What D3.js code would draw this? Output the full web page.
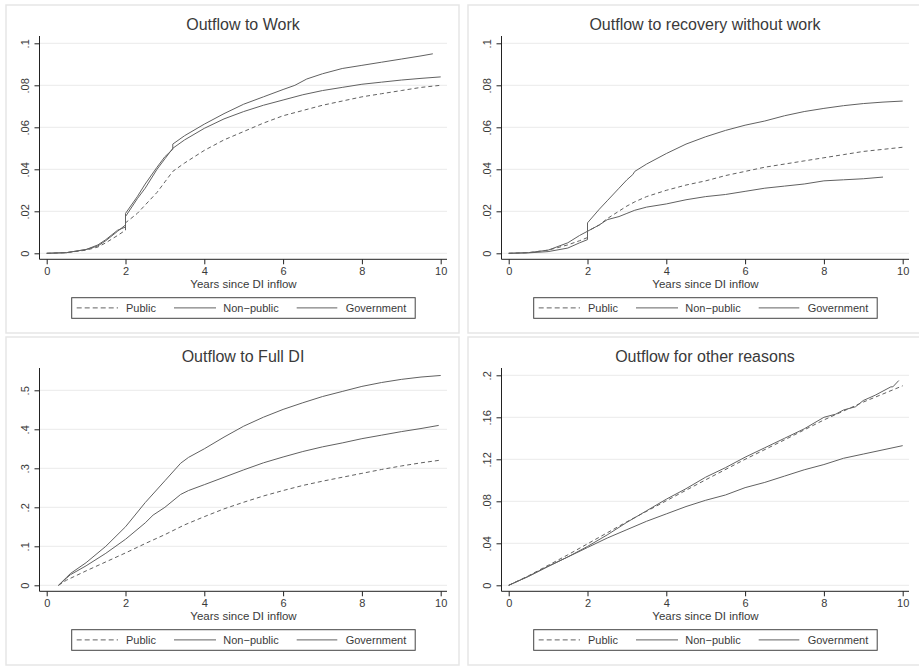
<!DOCTYPE html>
<html>
<head>
<meta charset="utf-8">
<script src="https://cdn.jsdelivr.net/npm/d3@7"></script>
<style>
html,body{margin:0;padding:0;background:#fff;}
svg{display:block;font-family:"Liberation Sans",Arial,Helvetica,sans-serif;}
</style>
</head>
<body>
<svg id="chart" width="919" height="666"></svg>
<script>
// ---------------- DATA ----------------
const panelTitles = ["Outflow to Work","Outflow to recovery without work","Outflow to Full DI","Outflow for other reasons"];
const seriesNames = ["Public","Non\u2212public","Government"];
const xTicks = [0,2,4,6,8,10];
const xLabel = "Years since DI inflow";

const yTicksWork = [0,0.02,0.04,0.06,0.08,0.1];
const yLabelsWork = ["0",".02",".04",".06",".08",".1"];
const yTicksRecov = [0,0.02,0.04,0.06,0.08,0.1];
const yLabelsRecov = ["0",".02",".04",".06",".08",".1"];
const yTicksFull = [0,0.1,0.2,0.3,0.4,0.5];
const yLabelsFull = ["0",".1",".2",".3",".4",".5"];
const yTicksOther = [0,0.04,0.08,0.12,0.16,0.2];
const yLabelsOther = ["0",".04",".08",".12",".16",".2"];

// Outflow to Work
const workPublic = [[0,0],[0.5,0.0003],[1,0.0015],[1.3,0.003],[1.5,0.005],[1.8,0.0085],[2,0.011],[2,0.0145],[2.3,0.019],[2.5,0.023],[2.8,0.029],[3,0.034],[3.2,0.039],[3.5,0.043],[4,0.049],[4.5,0.054],[5,0.058],[5.5,0.062],[6,0.0655],[6.5,0.068],[7,0.0705],[7.5,0.0725],[8,0.0745],[8.5,0.076],[9,0.0775],[9.5,0.079],[10,0.080]];
const workNonPublic = [[0,0],[0.5,0.0003],[1,0.0018],[1.3,0.0035],[1.5,0.006],[1.8,0.0105],[2,0.0135],[2,0.0175],[2.3,0.026],[2.5,0.031],[2.8,0.040],[3,0.045],[3.2,0.050],[3.5,0.054],[4,0.0595],[4.5,0.064],[5,0.0675],[5.5,0.0705],[6,0.073],[6.5,0.0755],[7,0.0775],[7.5,0.079],[8,0.0805],[8.5,0.0815],[9,0.0825],[9.5,0.0833],[10,0.084]];
const workGovernment = [[0,0],[0.5,0.0003],[1,0.0018],[1.3,0.004],[1.5,0.0065],[1.8,0.011],[2,0.0125],[2,0.019],[2.3,0.027],[2.5,0.033],[2.8,0.041],[3,0.046],[3.2,0.0495],[3.2,0.052],[3.5,0.056],[4,0.0615],[4.5,0.0665],[5,0.071],[5.5,0.0745],[6,0.078],[6.3,0.080],[6.6,0.083],[7,0.0855],[7.5,0.088],[8,0.0895],[8.5,0.091],[9,0.0925],[9.5,0.094],[9.8,0.095]];

// Outflow to recovery without work
const recovPublic = [[0,0],[0.5,0.0003],[1,0.0015],[1.5,0.004],[1.8,0.006],[2,0.0075],[2,0.0105],[2.3,0.0135],[2.5,0.0165],[3,0.0225],[3.2,0.0245],[3.5,0.027],[4,0.030],[4.5,0.0325],[5,0.0345],[5.5,0.037],[6,0.039],[6.5,0.041],[7,0.0425],[7.5,0.044],[8,0.0455],[8.5,0.047],[9,0.0485],[9.5,0.0495],[10,0.0505]];
const recovNonPublic = [[0,0],[0.5,0.0003],[1,0.0015],[1.5,0.005],[1.8,0.0085],[2,0.0105],[2,0.0145],[2.3,0.021],[2.5,0.025],[2.8,0.031],[3,0.035],[3.15,0.0375],[3.2,0.039],[3.5,0.0425],[4,0.0475],[4.5,0.052],[5,0.0555],[5.5,0.0585],[6,0.061],[6.5,0.063],[7,0.0655],[7.5,0.0675],[8,0.069],[8.5,0.0703],[9,0.0713],[9.5,0.072],[10,0.0725]];
const recovGovernment = [[0,0],[0.5,0.0002],[1,0.0008],[1.5,0.0025],[1.8,0.005],[2,0.0065],[2,0.0105],[2.3,0.0135],[2.5,0.016],[2.8,0.0175],[3,0.019],[3.2,0.0205],[3.5,0.022],[4,0.0235],[4.5,0.0255],[5,0.027],[5.5,0.028],[6,0.0295],[6.5,0.031],[7,0.032],[7.5,0.033],[8,0.0345],[8.5,0.035],[9,0.0355],[9.5,0.0363]];

// Outflow to Full DI
const fullPublic = [[0.3,0],[0.5,0.013],[0.75,0.025],[1,0.037],[1.5,0.06],[2,0.083],[2.5,0.107],[3,0.13],[3.5,0.155],[4,0.176],[4.5,0.196],[5,0.213],[5.5,0.229],[6,0.243],[6.5,0.256],[7,0.267],[7.5,0.277],[8,0.287],[8.5,0.297],[9,0.306],[9.5,0.314],[10,0.321]];
const fullNonPublic = [[0.3,0],[0.5,0.018],[0.6,0.027],[1,0.05],[1.5,0.082],[2,0.118],[2.5,0.16],[2.7,0.18],[3,0.2],[3.4,0.233],[3.6,0.243],[4,0.258],[4.5,0.277],[5,0.296],[5.5,0.314],[6,0.329],[6.5,0.343],[7,0.355],[7.5,0.365],[8,0.376],[8.5,0.385],[9,0.394],[9.5,0.402],[9.95,0.41]];
const fullGovernment = [[0.3,0],[0.5,0.02],[0.6,0.03],[1,0.058],[1.5,0.1],[2,0.15],[2.5,0.212],[3,0.268],[3.4,0.313],[3.6,0.328],[4,0.35],[4.5,0.38],[5,0.408],[5.5,0.431],[6,0.451],[6.5,0.468],[7,0.484],[7.5,0.497],[8,0.51],[8.5,0.52],[9,0.528],[9.5,0.534],[10,0.538]];

// Outflow for other reasons
const otherPublic = [[0,0],[0.5,0.009],[1,0.019],[1.5,0.029],[2,0.0395],[3,0.0605],[4,0.0805],[5,0.1005],[6,0.12],[7,0.1385],[8,0.1575],[9,0.1745],[10,0.19]];
const otherNonPublic = [[0,0],[0.5,0.0085],[1,0.018],[1.5,0.027],[2,0.036],[2.5,0.045],[3,0.053],[3.5,0.061],[4,0.068],[4.5,0.075],[5,0.081],[5.5,0.086],[6,0.093],[6.5,0.098],[7,0.104],[7.5,0.110],[8,0.115],[8.5,0.121],[9,0.125],[9.5,0.129],[10,0.133]];
const otherGovernment = [[0,0],[0.5,0.0085],[1,0.018],[1.5,0.027],[2,0.037],[2.5,0.048],[3,0.06],[3.5,0.071],[4,0.082],[4.5,0.092],[5,0.103],[5.5,0.112],[6,0.122],[6.5,0.131],[7,0.14],[7.5,0.149],[8,0.16],[8.3,0.163],[8.5,0.167],[8.8,0.17],[9,0.176],[9.3,0.181],[9.5,0.185],[9.7,0.189],[9.75,0.189],[9.9,0.195]];

// ---------------- LAYOUT ----------------
const panels = [
  {ox:6,   oy:5,   title:panelTitles[0], ticks:yTicksWork,  labels:yLabelsWork,  top:0.1, topPx:38.3, series:[workPublic,workNonPublic,workGovernment]},
  {ox:468, oy:5,   title:panelTitles[1], ticks:yTicksRecov, labels:yLabelsRecov, top:0.1, topPx:38.3, series:[recovPublic,recovNonPublic,recovGovernment]},
  {ox:6,   oy:337, title:panelTitles[2], ticks:yTicksFull,  labels:yLabelsFull,  top:0.5, topPx:53.3, series:[fullPublic,fullNonPublic,fullGovernment]},
  {ox:468, oy:337, title:panelTitles[3], ticks:yTicksOther, labels:yLabelsOther, top:0.2, topPx:38.3, series:[otherPublic,otherNonPublic,otherGovernment]}
];
const PW = 453, PH = 328;
const axisX = 33.5, plotRight = 441, axisY = 254.3, axisTop = 31;
const lineColor = "#616161";
const dashes = ["4,3", null, null];
const svg = d3.select("#chart");

panels.forEach(p => {
  const g = svg.append("g").attr("transform", `translate(${p.ox},${p.oy})`);
  g.append("rect").attr("x",0).attr("y",0).attr("width",PW).attr("height",PH)
    .attr("fill","#fff").attr("stroke","#e6e6e6").attr("stroke-width",1.5);

  const x = d3.scaleLinear().domain([0,10]).range([40.7,434.7]);
  const y = d3.scaleLinear().domain([0,p.top]).range([248.3,p.topPx]);

  // grid
  g.selectAll("line.grid").data(p.ticks).enter().append("line")
    .attr("x1",axisX).attr("x2",plotRight)
    .attr("y1",d=>y(d)).attr("y2",d=>y(d))
    .attr("stroke","#eaeaea").attr("stroke-width",1);

  // lines
  const line = d3.line().x(d=>x(d[0])).y(d=>y(d[1])).curve(d3.curveLinear);
  p.series.forEach((s,i) => {
    g.append("path").datum(s).attr("d",line)
      .attr("fill","none").attr("stroke",lineColor).attr("stroke-width",1)
      .attr("stroke-dasharray",dashes[i]);
  });

  // y axis
  const yAxis = d3.axisLeft(y).tickValues(p.ticks).tickSize(5).tickFormat((d,i)=>p.labels[i]);
  const ya = g.append("g").attr("transform",`translate(${axisX},0)`).call(yAxis);
  ya.select(".domain").remove();
  ya.append("line").attr("x1",0).attr("x2",0).attr("y1",axisTop).attr("y2",axisY).attr("stroke","#222");
  ya.selectAll(".tick line").attr("stroke","#222");
  ya.selectAll(".tick text")
    .attr("x",null).attr("dy",null)
    .attr("transform","translate(-14.5,0) rotate(-90)")
    .attr("text-anchor","middle").attr("dy","0.35em")
    .attr("font-size",11).attr("fill","#3a3a3a").attr("font-family","Liberation Sans, Arial, sans-serif");

  // x axis
  const xAxis = d3.axisBottom(x).tickValues(xTicks).tickSize(5).tickFormat(d3.format("d"));
  const xa = g.append("g").attr("transform",`translate(0,${axisY})`).call(xAxis);
  xa.select(".domain").remove();
  xa.append("line").attr("x1",axisX).attr("x2",plotRight).attr("y1",0).attr("y2",0).attr("stroke","#222");
  xa.selectAll(".tick line").attr("stroke","#222");
  xa.selectAll(".tick text").attr("y",11.4).attr("dy","0.35em")
    .attr("font-size",11).attr("fill","#3a3a3a").attr("font-family","Liberation Sans, Arial, sans-serif");

  g.append("text").attr("x",237.5).attr("y",279).attr("dy","0.35em")
    .attr("text-anchor","middle").attr("font-size",11.5).attr("fill","#3a3a3a").text(xLabel);

  // title
  g.append("text").attr("x",237).attr("y",19.5).attr("dy","0.35em")
    .attr("text-anchor","middle").attr("font-size",16).attr("fill","#3a3a3a").text(p.title);

  // legend
  const lg = g.append("g");
  lg.append("rect").attr("x",65.7).attr("y",292.7).attr("width",343.5).attr("height",20.6)
    .attr("fill","#fff").attr("stroke","#444").attr("stroke-width",1);
  const legX = [[70.7,112,120],[168,210,217.3],[290.7,331.3,339.7]];
  seriesNames.forEach((n,i) => {
    lg.append("line").attr("x1",legX[i][0]).attr("x2",legX[i][1]).attr("y1",302.9).attr("y2",302.9)
      .attr("stroke",lineColor).attr("stroke-width",1).attr("stroke-dasharray",i===0?"5,3":null);
    lg.append("text").attr("x",legX[i][2]).attr("y",302.9).attr("dy","0.35em")
      .attr("font-size",11).attr("fill","#3a3a3a").text(n);
  });
});
</script>
</body>
</html>
